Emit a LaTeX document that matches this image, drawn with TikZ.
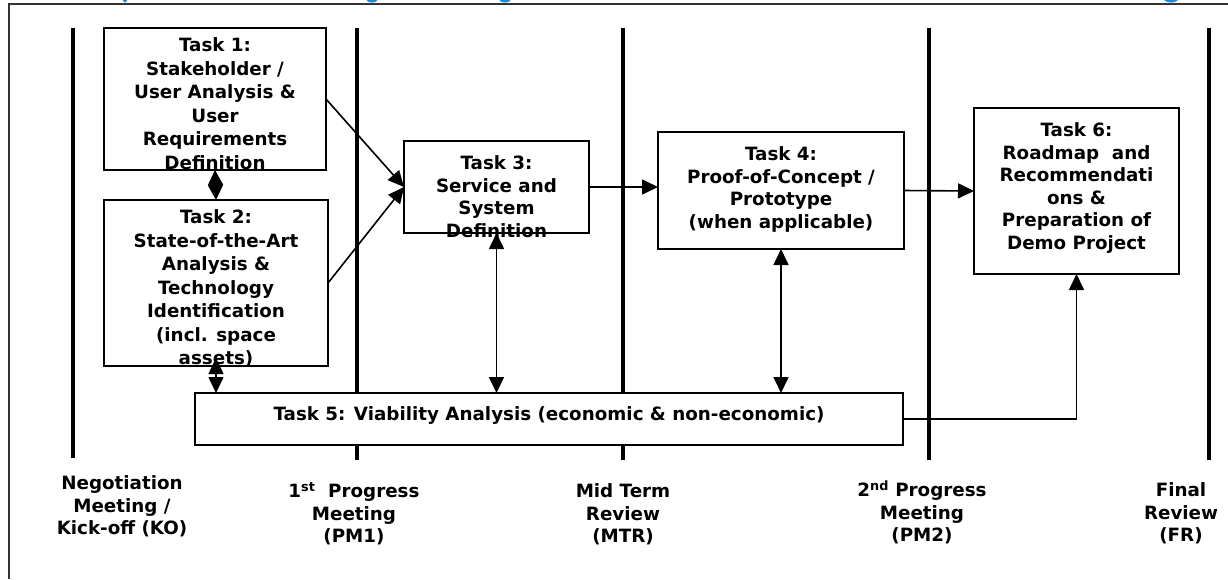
\documentclass[tikz,border=0pt]{standalone}
\usepackage{fontspec}
\setmainfont{DejaVu Sans}
\usetikzlibrary{arrows.meta}
\newcommand\tstrut{\rule{0pt}{18pt}}
\definecolor{titleblue}{RGB}{20,140,215}
\begin{document}
\begin{tikzpicture}[x=1pt,y=-1pt,
  box/.style={draw=black, line width=1.5pt, fill=white, inner sep=0pt, outer sep=0pt, rectangle},
  txt/.style={anchor=north, inner sep=0pt, align=center, font=\bfseries\fontsize{18.3}{22.5}\selectfont},
  wide/.style={font=\bfseries\fontsize{18.3}{23.5}\selectfont},
  tip/.tip={Triangle[length=16pt,width=15pt]},
  dtip/.tip={Triangle[length=15pt,width=15pt]},
  conn/.style={line width=1.6pt, -tip},
  both/.style={line width=1.6pt, tip-tip},
  dia/.style={line width=1.6pt, dtip-dtip},
  milestone/.style={line width=4.5pt},
  frameline/.style={line width=1.3pt, draw=black!80}]
\useasboundingbox (0,0) rectangle (1228,579);
% cut-off title fragments
\begin{scope}
\clip (0,0) rectangle (1228,3);
\fill[titleblue] (125,-2) ellipse (2.5 and 4.5);
\fill[titleblue] (372,-1) ellipse (6 and 3.5);
\fill[titleblue] (505,-1) ellipse (6 and 3.5);
\fill[titleblue] (1171,-1) ellipse (7 and 3.5);
\end{scope}
% frame
\draw[frameline] (1228,4) -- (9,4) -- (9,579);
% milestone lines
\draw[milestone] (73,28) -- (73,458);
\draw[milestone] (357,28) -- (357,460);
\draw[milestone] (623,28) -- (623,460);
\draw[milestone] (929,28) -- (929,460);
\draw[milestone] (1209,28) -- (1209,460);
% boxes
\node[box, minimum width=222pt, minimum height=142pt] (t1) at (215,99) {};
\node[box, minimum width=224pt, minimum height=166pt] (t2) at (216,283) {};
\node[box, minimum width=185pt, minimum height=92pt] (t3) at (496.5,187) {};
\node[box, minimum width=246pt, minimum height=117pt] (t4) at (781,190.5) {};
\node[box, minimum width=205pt, minimum height=166pt] (t6) at (1076.5,191) {};
\node[box, minimum width=708pt, minimum height=52pt] (t5) at (549,419) {};
% box texts
\node[txt, wide] (t1txt) at (215,33.7) {\tstrut Task 1:\\Stakeholder /\\User Analysis \&\\User\\Requirements\\Definition};
\node[txt, wide] (t2txt) at (216,205.7) {\tstrut Task 2:\\State-of-the-Art\\Analysis \&\\Technology\\Identification\\(incl. space\\assets)};
\node[txt] (t3txt) at (496.5,151.7) {\tstrut Task 3:\\Service and\\System\\Definition};
\node[txt] (t4txt) at (781,142.7) {\tstrut Task 4:\\Proof-of-Concept /\\Prototype\\(when applicable)};
\node[txt] (t6txt) at (1076.5,118.7) {\tstrut Task 6:\\Roadmap\ \ and\\Recommendati\\ons \&\\Preparation of\\Demo Project};
\node[txt] (t5txt) at (549,402.5) {\tstrut Task 5: Viability Analysis (economic \& non-economic)};
% milestone labels
\node[txt] (ko) at (122,471.7) {\tstrut Negotiation\\Meeting /\\Kick-off (KO)};
\node[txt] (pm1) at (354,479.7) {\tstrut 1\textsuperscript{st}\ \ Progress\\Meeting\\(PM1)};
\node[txt] (mtr) at (623,479.7) {\tstrut Mid Term\\Review\\(MTR)};
\node[txt] (pm2) at (922,478.7) {\tstrut 2\textsuperscript{nd} Progress\\Meeting\\(PM2)};
\node[txt] (fr) at (1181,478.7) {\tstrut Final\\Review\\(FR)};
% connectors
\draw[conn] (t1.east) -- (t3.west);
\draw[conn] (t2.east) -- (t3.west);
\draw[conn] (t3.east) -- (t3.east -| t4.west);
\draw[conn] (t4.east) -- (t6.west);
\draw[dia] (t1.south) -- (t2.north);
\draw[both] ([yshift=8pt]t2.south) -- (t2.south |- t5.north);
\draw[both] (t3.south) -- (t3.south |- t5.north);
\draw[both] (t4.south) -- (t4.south |- t5.north);
\draw[conn] (t5.east) -| (t6.south);
\end{tikzpicture}
\end{document}
